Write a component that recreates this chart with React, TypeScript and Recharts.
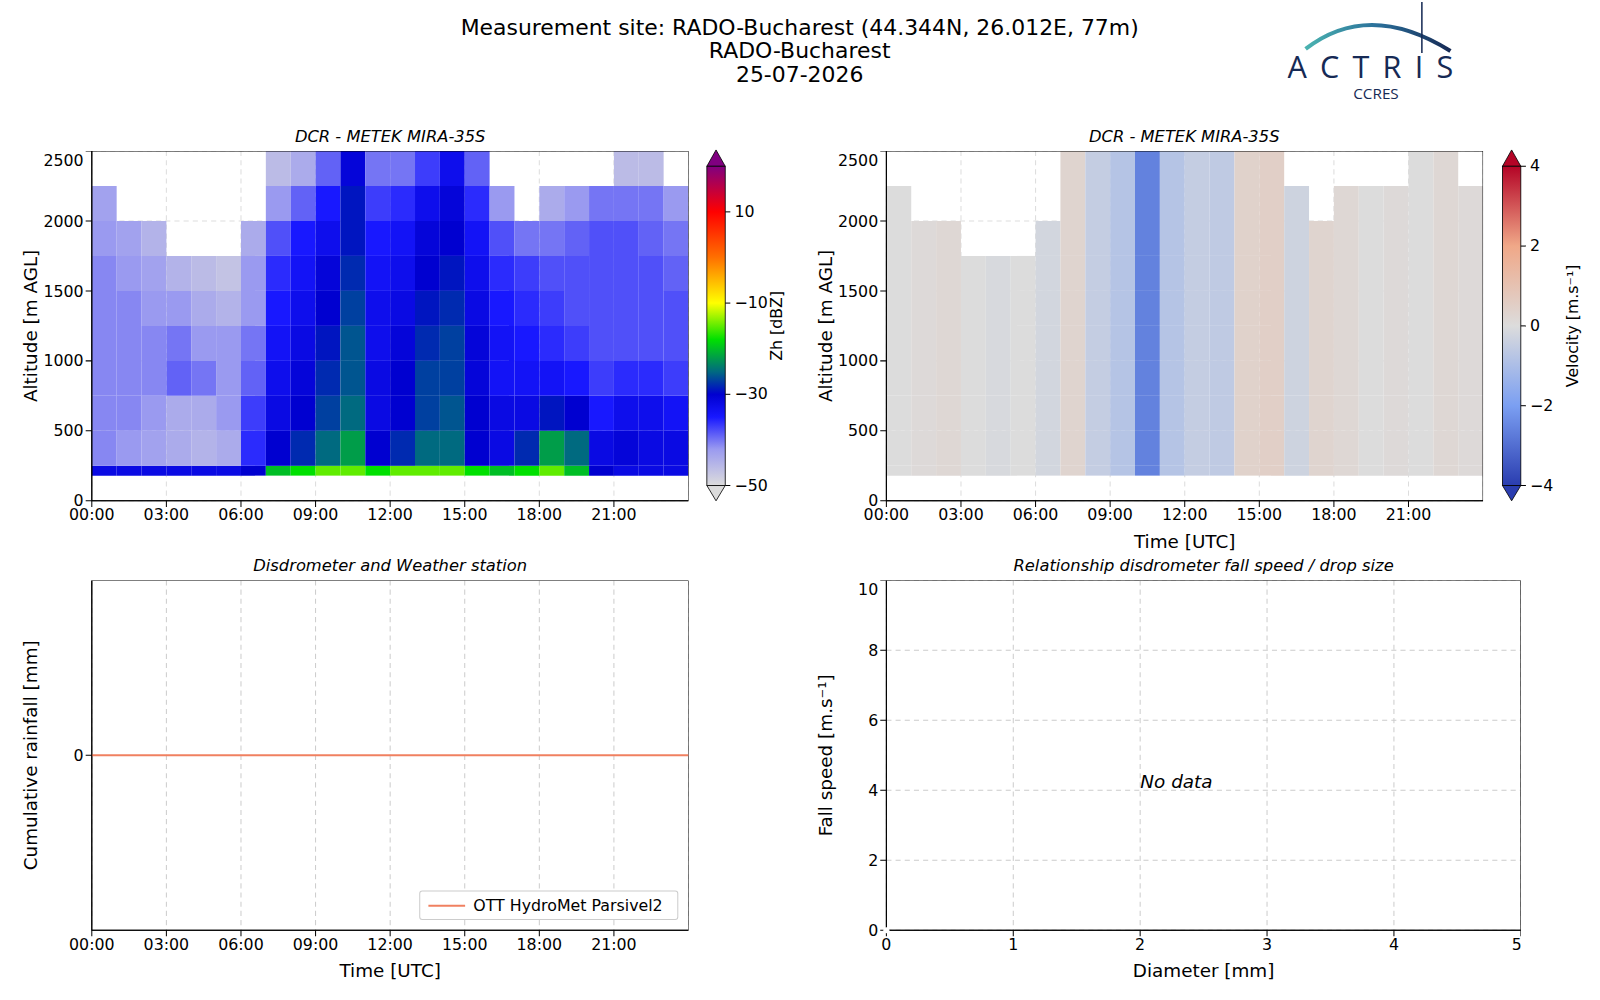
import React from "react";
import { ComposedChart, XAxis, YAxis, CartesianGrid, ReferenceArea, Line } from "recharts";

const timeTicks = [0, 3, 6, 9, 12, 15, 18, 21];
const altTicks = [0, 500, 1000, 1500, 2000, 2500];
const altEdges = [180, 250, 500, 750, 1000, 1250, 1500, 1750, 2000, 2250, 2500];
const hours = [0,1,2,3,4,5,6,7,8,9,10,11,12,13,14,15,16,17,18,19,20,21,22,23];
const N = null;
// reflectivity (dBZ) per altitude bin (bottom to top), per hour
const zhRows: (number | null)[][] = [
  [-32,-32,-32,-32,-32,-32,-30,-20,-18,-15,-15,-18,-15,-15,-15,-18,-20,-18,-15,-20,-30,-32,-32,-32],
  [-41,-42,-43,-44,-45,-44,-36,-30,-28,-25,-22,-30,-28,-25,-25,-30,-32,-28,-22,-25,-32,-31,-32,-32],
  [-41,-41,-42,-44,-44,-42,-37,-32,-30,-27,-25,-32,-30,-27,-26,-30,-32,-32,-29,-30,-35,-33,-33,-34],
  [-41,-41,-41,-39,-40,-42,-39,-33,-31,-28,-26,-32,-30,-27,-27,-31,-34,-34,-34,-35,-37,-36,-36,-37],
  [-41,-41,-41,-40,-42,-42,-40,-34,-32,-29,-26,-33,-31,-28,-27,-31,-34,-35,-36,-37,-38,-38,-38,-38],
  [-41,-41,-42,-42,-44,-45,-42,-35,-33,-30,-27,-33,-32,-29,-28,-32,-35,-36,-37,-38,-38,-38,-38,-38],
  [-41,-42,-43,-45,-46,-47,-42,-36,-34,-31,-28,-34,-33,-30,-29,-33,-36,-37,-38,-38,-38,-38,-38,-39],
  [-42,-43,-45,N,N,N,-44,-38,-35,-33,-29,-35,-34,-31,-30,-34,-38,-40,-40,-39,-38,-38,-39,-40],
  [-43,N,N,N,N,N,N,-42,-39,-35,-29,-37,-36,-33,-31,-36,-42,N,-44,-42,-40,-40,-40,-42],
  [N,N,N,N,N,N,N,-46,-44,-39,-31,-40,-40,-37,-33,-39,N,N,N,N,N,-46,-46,N],
];
// mean Doppler velocity (m/s) per hour
const velByHour = [0,0.1,0.2,0,-0.1,0,-0.2,0.3,-0.5,-0.8,-2.6,-0.8,-0.5,-0.6,0.4,0.5,-0.3,0.3,0.2,0,0.1,0,0.2,0.1];
const rainData = [{ t: 0, r: 0 }, { t: 24, r: 0 }];
const dsdData = [{ d: 0, v: 0 }];
const diamTicks = [0, 1, 2, 3, 4, 5];
const speedTicks = [0, 2, 4, 6, 8, 10];

const FONT = "'DejaVu Sans', sans-serif";
const zhStops: [number, string][] = [[-50,"#dcdcdc"],[-42,"#9a9af0"],[-35,"#1818ff"],[-30,"#0000d0"],[-25,"#006a80"],[-18,"#00e000"],[-10,"#ffff00"],[0,"#ff7000"],[10,"#ff0000"],[20,"#800080"]];
const velStops: [number, string][] = [[-4,"#2a3db0"],[-2,"#7b9ff2"],[0,"#dcdcdc"],[2,"#f0a888"],[4,"#b40426"]];

function hex(c: string) { return [1,3,5].map(i => parseInt(c.slice(i, i + 2), 16)); }
function cmap(stops: [number, string][], v: number) {
  if (v <= stops[0][0]) return stops[0][1];
  for (let i = 1; i < stops.length; i++) {
    if (v <= stops[i][0]) {
      const f = (v - stops[i-1][0]) / (stops[i][0] - stops[i-1][0]);
      const a = hex(stops[i-1][1]), b = hex(stops[i][1]);
      return "rgb(" + a.map((x, k) => Math.round(x + (b[k] - x) * f)).join(",") + ")";
    }
  }
  return stops[stops.length - 1][1];
}
const fmtT = (h: number) => String(h).padStart(2, "0") + ":00";
const tick = { fill: "#000", fontSize: 15.5, fontFamily: FONT };
const axisLine = { stroke: "#000" };
const ylab = (value: string) => ({ value, angle: -90, position: "insideLeft", offset: 20, style: { fontSize: 18, fontFamily: FONT, fill: "#000", textAnchor: "middle" } });

function Frame({ x0, x1, y0, y1 }: any) {
  return <ReferenceArea x1={x0} x2={x1} y1={y0} y2={y1} fill="none" stroke="#000" strokeWidth={1} ifOverflow="visible" />;
}

function Heat({ kind }: { kind: "zh" | "vel" }) {
  const cells: any[] = [];
  zhRows.forEach((row, r) => row.forEach((v, h) => {
    if (v === null) return;
    const fill = kind === "zh" ? cmap(zhStops, v) : cmap(velStops, velByHour[h]);
    cells.push(<ReferenceArea key={r + "-" + h} x1={hours[h]} x2={hours[h] + 1} y1={altEdges[r]} y2={altEdges[r + 1]} fill={fill} fillOpacity={1} stroke="none" />);
  }));
  return (
    <ComposedChart width={665} height={393} margin={{ top: 0, right: 0, bottom: 0, left: 0 }} data={rainData}>
      <XAxis dataKey="t" type="number" domain={[0, 24]} ticks={timeTicks} tickFormatter={fmtT} tick={tick} axisLine={axisLine} tickLine={axisLine} height={50} tickSize={6} />
      <YAxis type="number" domain={[0, 2500]} ticks={altTicks} tick={tick} axisLine={axisLine} tickLine={axisLine} width={80} tickSize={6} label={ylab("Altitude [m AGL]")} />
      {cells}
      <CartesianGrid strokeDasharray="5 4" stroke="#bbb" strokeOpacity={0.5} />
      <Line dataKey="r" stroke="none" dot={false} isAnimationActive={false} />
      <Frame x0={0} x1={24} y0={0} y1={2500} />
    </ComposedChart>
  );
}

function Colorbar({ stops, min, max, ticks, label, left }: any) {
  const top = 163, bot = 476, w = 18;
  const id = "g" + left;
  return (
    <svg style={{ position: "absolute", left, top: 140, overflow: "visible" }} width={90} height={360}>
      <defs>
        <linearGradient id={id} x1="0" y1="1" x2="0" y2="0">
          {stops.map(([v, c]: any) => <stop key={v} offset={(v - min) / (max - min)} stopColor={c} />)}
        </linearGradient>
      </defs>
      <g transform="translate(0,-140)">
        <polygon points={`0,${top} ${w / 2},${top - 16} ${w},${top}`} fill={stops[stops.length - 1][1]} stroke="#000" strokeWidth={0.8} />
        <polygon points={`0,${bot} ${w / 2},${bot + 15} ${w},${bot}`} fill={stops[0][1]} stroke="#000" strokeWidth={0.8} />
        <rect x={0} y={top} width={w} height={bot - top} fill={`url(#${id})`} stroke="#000" strokeWidth={0.8} />
        {ticks.map((t: number) => {
          const y = bot - (t - min) / (max - min) * (bot - top);
          return <g key={t}><line x1={w} x2={w + 5} y1={y} y2={y} stroke="#000" /><text x={w + 9} y={y + 5} fontSize={15.5} fontFamily={FONT}>{t < 0 ? "\u2212" + Math.abs(t) : t}</text></g>;
        })}
        <text transform={`translate(${w + 56},${(top + bot) / 2}) rotate(-90)`} textAnchor="middle" fontSize={15.5} fontFamily={FONT}>{label}</text>
      </g>
    </svg>
  );
}

const abs = (l: number, t: number): React.CSSProperties => ({ position: "absolute", left: l, top: t });
const title = (l: number, w: number, t: number, s: string) => (
  <div style={{ ...abs(l, t), width: w, textAlign: "center", fontStyle: "italic", fontSize: 16, fontFamily: FONT }}>{s}</div>
);

export default function App() {
  return (
    <div style={{ position: "absolute", left: 0, top: 0, width: 1560, height: 975, background: "#fff", fontFamily: FONT, transform: "scale(1.02)", transformOrigin: "0 0" }}>
      <div style={{ ...abs(334, 15), width: 900, textAlign: "center", fontSize: 21.5, lineHeight: "23px" }}>
        <div>Measurement site: RADO-Bucharest (44.344N, 26.012E, 77m)</div>
        <div>RADO-Bucharest</div>
        <div>25-07-2026</div>
      </div>
      <svg style={abs(1262, 0)} width={180} height={105}>
        <defs>
          <linearGradient id="arc" x1="0" x2="1"><stop offset="0" stopColor="#4bb3b0" /><stop offset="0.5" stopColor="#2a6f9a" /><stop offset="1" stopColor="#162a55" /></linearGradient>
        </defs>
        <path d="M 18 48 Q 80 0 160 50" fill="none" stroke="url(#arc)" strokeWidth={4} />
        <line x1={132} y1={2} x2={132} y2={52} stroke="#162a55" strokeWidth={1.5} />
        <text x={88} y={76} textAnchor="middle" fontSize={30} letterSpacing={13} fill="#162a55" fontFamily="'Open Sans', sans-serif">ACTRIS</text>
        <text x={87} y={97} textAnchor="middle" fontSize={15} fill="#162a55" fontFamily="'Open Sans', sans-serif">CCRES</text>
      </svg>

      {title(90, 585, 124, "DCR - METEK MIRA-35S")}
      <div style={abs(10, 148)}><Heat kind="zh" /></div>
      <Colorbar stops={zhStops} min={-50} max={20} ticks={[10, -10, -30, -50]} label="Zh [dBZ]" left={693} />

      {title(869, 584, 124, "DCR - METEK MIRA-35S")}
      <div style={abs(789, 148)}><Heat kind="vel" /></div>
      <Colorbar stops={velStops} min={-4} max={4} ticks={[4, 2, 0, -2, -4]} label={"Velocity [m.s\u207B\u00B9]"} left={1473} />
      <div style={{ ...abs(869, 520), width: 585, textAlign: "center", fontSize: 18 }}>Time [UTC]</div>

      {title(90, 585, 545, "Disdrometer and Weather station")}
      <div style={abs(10, 569)}>
        <ComposedChart width={665} height={393} margin={{ top: 0, right: 0, bottom: 0, left: 0 }} data={rainData}>
          <CartesianGrid strokeDasharray="5 4" stroke="#ccc" horizontal={false} />
          <XAxis dataKey="t" type="number" domain={[0, 24]} ticks={timeTicks} tickFormatter={fmtT} tick={tick} axisLine={axisLine} tickLine={axisLine} height={50} tickSize={6} />
          <YAxis type="number" domain={[-1, 1]} ticks={[0]} tick={tick} axisLine={axisLine} tickLine={axisLine} width={80} tickSize={6} label={ylab("Cumulative rainfall [mm]")} />
          <Line dataKey="r" name="OTT HydroMet Parsivel2" stroke="#f08060" strokeWidth={2} dot={false} isAnimationActive={false} />
          <Frame x0={0} x1={24} y0={-1} y1={1} />
        </ComposedChart>
      </div>
      <div style={{ ...abs(411, 873), width: 254, height: 29, border: "1px solid #ccc", borderRadius: 3, background: "#fff", display: "flex", alignItems: "center", fontSize: 15.5, boxSizing: "border-box" }}>
        <svg width={46} height={10} style={{ marginLeft: 6 }}><line x1={2} x2={38} y1={5} y2={5} stroke="#f08060" strokeWidth={2} /></svg>
        <span>OTT HydroMet Parsivel2</span>
      </div>
      <div style={{ ...abs(90, 941), width: 585, textAlign: "center", fontSize: 18 }}>Time [UTC]</div>

      {title(869, 622, 545, "Relationship disdrometer fall speed / drop size")}
      <div style={abs(789, 569)}>
        <ComposedChart width={702} height={393} margin={{ top: 0, right: 0, bottom: 0, left: 0 }} data={dsdData}>
          <CartesianGrid strokeDasharray="5 4" stroke="#ccc" />
          <XAxis dataKey="d" type="number" domain={[0, 5]} ticks={diamTicks} tick={tick} axisLine={axisLine} tickLine={axisLine} height={50} tickSize={6} />
          <YAxis dataKey="v" type="number" domain={[0, 10]} ticks={speedTicks} tick={tick} axisLine={axisLine} tickLine={axisLine} width={80} tickSize={6} label={ylab("Fall speed [m.s\u207B\u00B9]")} />
          <Line dataKey="v" stroke="none" dot={false} isAnimationActive={false} />
          <Frame x0={0} x1={5} y0={0} y1={10} />
        </ComposedChart>
      </div>
      <div style={{ ...abs(1118, 756), fontSize: 18, fontStyle: "italic" }}>No data</div>
      <div style={{ ...abs(869, 941), width: 622, textAlign: "center", fontSize: 18 }}>Diameter [mm]</div>
    </div>
  );
}
